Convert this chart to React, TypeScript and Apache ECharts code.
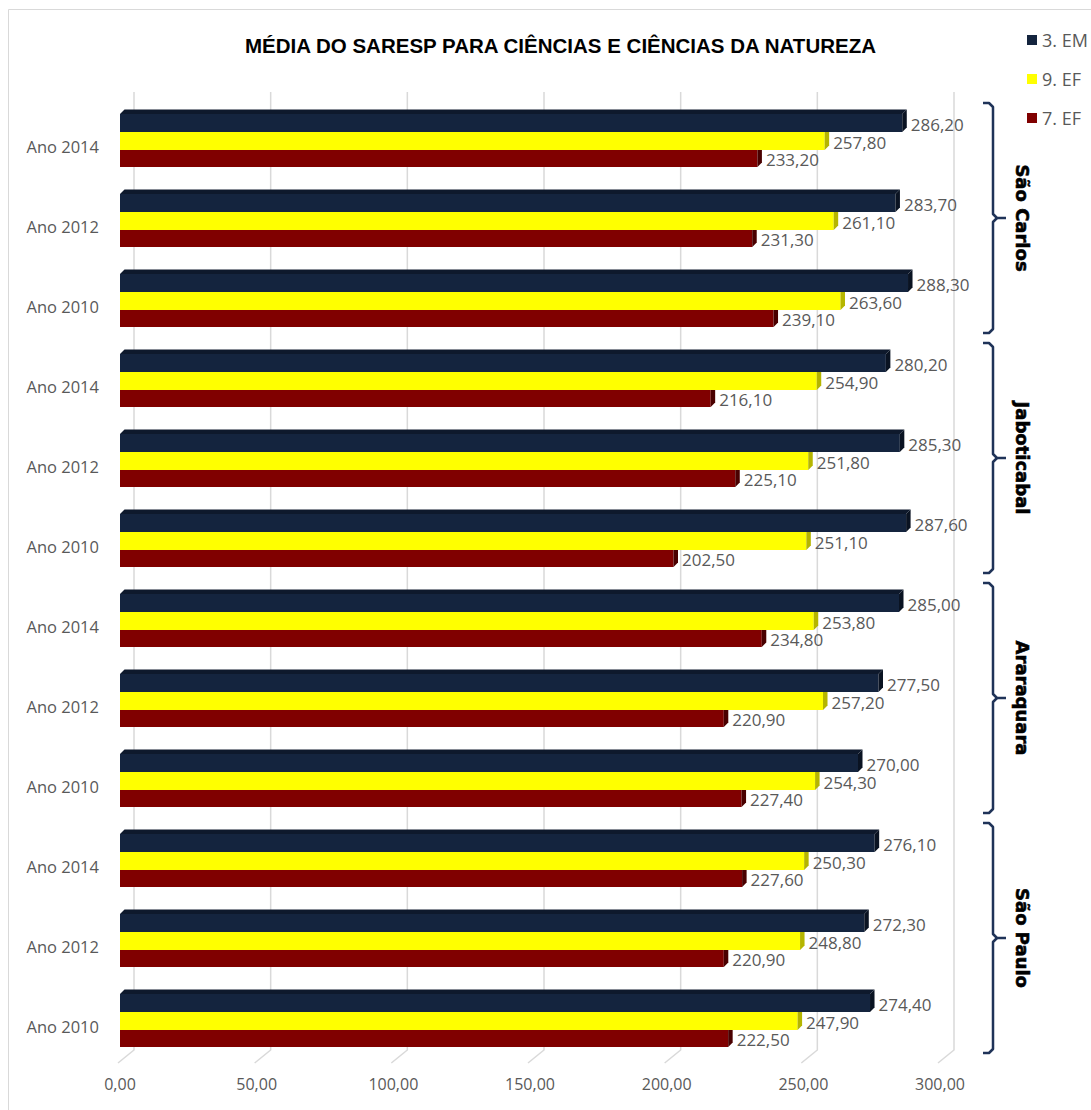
import React, { useEffect, useRef } from "react";
import * as echarts from "echarts";

const categories = [
  "Ano 2014", "Ano 2012", "Ano 2010",
  "Ano 2014", "Ano 2012", "Ano 2010",
  "Ano 2014", "Ano 2012", "Ano 2010",
  "Ano 2014", "Ano 2012", "Ano 2010",
];
const seriesNames = ["3. EM", "9. EF", "7. EF"];
const em3 = [286.2, 283.7, 288.3, 280.2, 285.3, 287.6, 285.0, 277.5, 270.0, 276.1, 272.3, 274.4];
const ef9 = [257.8, 261.1, 263.6, 254.9, 251.8, 251.1, 253.8, 257.2, 254.3, 250.3, 248.8, 247.9];
const ef7 = [233.2, 231.3, 239.1, 216.1, 225.1, 202.5, 234.8, 220.9, 227.4, 227.6, 220.9, 222.5];
const xTicks = [0, 50, 100, 150, 200, 250, 300];
const cities = ["São Carlos", "Jaboticabal", "Araraquara", "São Paulo"];
const cityStart = [0, 3, 6, 9];
const cityEnd = [2, 5, 8, 11];

const fmt = (v: number) => v.toFixed(2).replace(".", ",");
const GRAY = "#595959";
const FONT = "'Open Sans', 'Liberation Sans', sans-serif";

function barSeries(
  name: string,
  values: number[],
  front: string,
  top: string,
  side: string,
  offset: number,
  h: number,
  showTop: boolean,
  z: number
) {
  return {
    type: "custom",
    name,
    z,
    itemStyle: { color: front },
    encode: { x: 0, y: 1 },
    data: values.map((v, i) => [v, i]),
    renderItem: (params: any, api: any) => {
      const v = api.value(0);
      const i = api.value(1);
      const p0 = api.coord([0, i]);
      const p1 = api.coord([v, i]);
      const x0 = p0[0];
      const x1 = p1[0];
      const y0 = p0[1] + offset;
      const y1 = y0 + h;
      const d = 4.5;
      const children: any[] = [
        { type: "rect", shape: { x: x0, y: y0, width: x1 - x0, height: h }, style: { fill: front } },
        {
          type: "polygon",
          shape: { points: [[x1, y0], [x1 + d, y0 - d], [x1 + d, y1 - d], [x1, y1]] },
          style: { fill: side },
        },
      ];
      if (showTop) {
        children.push({
          type: "polygon",
          shape: { points: [[x0, y0], [x0 + d, y0 - d], [x1 + d, y0 - d], [x1, y0]] },
          style: { fill: top },
        });
      }
      children.push({
        type: "text",
        style: {
          text: fmt(v),
          x: x1 + d + 4,
          y: (y0 + y1) / 2 + 1,
          fill: GRAY,
          fontSize: 17,
          fontFamily: FONT,
          align: "left",
          verticalAlign: "middle",
        },
      });
      return { type: "group", children };
    },
  };
}

export default function App() {
  const ref = useRef<HTMLDivElement>(null);
  useEffect(() => {
    if (!ref.current) return;
    const chart = echarts.init(ref.current, null, { renderer: "svg" });
    const option: any = {
      animation: false,
      backgroundColor: "#ffffff",
      color: ["#14243E", "#FFFF00", "#800000"],
      title: {
        text: "MÉDIA DO SARESP PARA CIÊNCIAS E CIÊNCIAS DA NATUREZA",
        left: 240,
        top: 30,
        textStyle: {
          fontFamily: "'Liberation Sans', sans-serif",
          fontWeight: "bold",
          fontSize: 20.5,
          color: "#000000",
        },
      },
      legend: {
        data: seriesNames,
        orient: "vertical",
        left: 1022,
        top: 26,
        itemWidth: 10,
        itemHeight: 10,
        itemGap: 21,
        icon: "rect",
        textStyle: { fontSize: 18, color: GRAY, fontFamily: FONT, lineHeight: 18 },
      },
      grid: { left: 120, width: 820, top: 106.5, height: 960 },
      xAxis: {
        type: "value",
        min: 0,
        max: 300,
        interval: 50,
        axisLabel: { formatter: (v: number) => fmt(v), color: GRAY, fontSize: 16, fontFamily: FONT, margin: 9 },
        splitLine: { show: false },
        axisLine: { show: false },
        axisTick: { show: false },
      },
      yAxis: {
        type: "category",
        data: categories,
        inverse: true,
        axisLine: { show: false },
        axisTick: { show: false },
        axisLabel: { color: GRAY, fontSize: 16.5, fontFamily: FONT, margin: 21 },
      },
      graphic: [
        {
          type: "rect",
          silent: true,
          shape: { x: 8.5, y: 9.5, width: 1200, height: 1200 },
          style: { fill: "none", stroke: "#d9d9d9", lineWidth: 1 },
        },
      ],
      series: [
        {
          type: "custom",
          silent: true,
          z: 1,
          data: xTicks.map((v) => [v, 0]),
          encode: { x: 0, y: 1 },
          renderItem: (params: any, api: any) => {
            const x = api.coord([api.value(0), 0])[0];
            const cs = params.coordSys;
            const bottom = cs.y + cs.height;
            return {
              type: "polyline",
              shape: { points: [[x - 2, bottom - 3.5], [x + 14, bottom - 16.5], [x + 14, cs.y - 14.5]] },
              style: { stroke: "#d9d9d9", lineWidth: 1.5, fill: "none" },
            };
          },
        },
        barSeries(seriesNames[0], em3, "#14243E", "#0E192C", "#0A1322", -32.5, 18, true, 6),
        barSeries(seriesNames[1], ef9, "#FFFF00", "#CCCC00", "#B5B500", -14.5, 18, false, 5),
        barSeries(seriesNames[2], ef7, "#800000", "#5A0000", "#4A0000", 3.5, 17, false, 4),
        {
          type: "custom",
          silent: true,
          z: 2,
          data: cities.map((c, i) => [0, cityStart[i], cityEnd[i]]),
          encode: { x: 0, y: 1 },
          renderItem: (params: any, api: any) => {
            const a = api.coord([0, api.value(1)])[1];
            const b = api.coord([0, api.value(2)])[1];
            const y0 = a - 43.5;
            const y1 = b + 26.5;
            const ym = (y0 + y1) / 2;
            const xv = 993;
            const stroke = { stroke: "#1F3358", lineWidth: 2.5, fill: "none", lineJoin: "round" };
            return {
              type: "group",
              children: [
                {
                  type: "polyline",
                  shape: {
                    points: [
                      [983, y0], [989, y0], [993, y0 + 4], [xv, ym - 4], [997, ym], [1006, ym],
                    ],
                  },
                  style: stroke,
                },
                {
                  type: "polyline",
                  shape: {
                    points: [
                      [997, ym], [xv, ym + 4], [xv, y1 - 4], [989, y1], [983, y1],
                    ],
                  },
                  style: stroke,
                },
                {
                  type: "text",
                  x: 1022,
                  y: ym,
                  rotation: -Math.PI / 2,
                  style: {
                    text: cities[params.dataIndex],
                    fontSize: 18,
                    fontWeight: "bold",
                    fontFamily: "'DejaVu Sans', sans-serif",
                    fill: "#000000",
                    align: "center",
                    verticalAlign: "middle",
                    stroke: "#000000",
                    lineWidth: 0.6,
                  },
                },
              ],
            };
          },
        },
      ],
    };
    chart.setOption(option);
    return () => chart.dispose();
  }, []);
  return (
    <div
      ref={ref}
      style={{ position: "fixed", left: 0, top: 0, width: 1091, height: 1110, background: "#fff" }}
    />
  );
}
